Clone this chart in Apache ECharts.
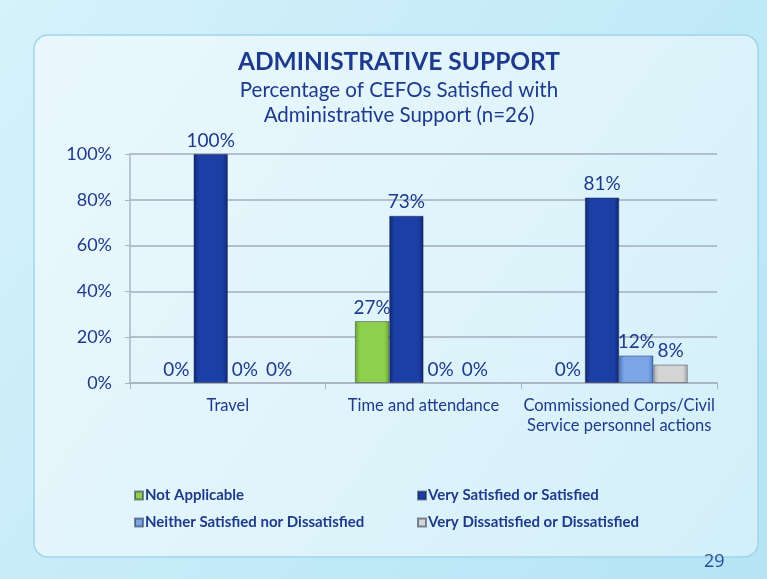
<!DOCTYPE html>
<html><head><meta charset="utf-8">
<script src="https://cdn.jsdelivr.net/npm/echarts@6/dist/echarts.min.js"></script>
<style>html,body{margin:0;padding:0;background:#c6ecf9;}#c{width:767px;height:579px;}</style>
</head><body><div id="c"></div>
<script>
const categories = ['Travel', 'Time and attendance', 'Commissioned Corps/Civil\nService personnel actions'];
const seriesNames = ['Not Applicable', 'Very Satisfied or Satisfied', 'Neither Satisfied nor Dissatisfied', 'Very Dissatisfied or Dissatisfied'];
const notApplicable = [0, 27, 0];
const verySatisfied = [100, 73, 81];
const neither = [0, 0, 12];
const veryDissatisfied = [0, 0, 8];
const yTicks = [0, 20, 40, 60, 80, 100];

const FONT = 'Lato';
const TXT = '#1e3a8c';
const chart = echarts.init(document.getElementById('c'));
function grad(top, bot) {
  return new echarts.graphic.LinearGradient(0, 0, 1, 0, [
    {offset: 0, color: bot}, {offset: 0.15, color: top}, {offset: 0.85, color: top}, {offset: 1, color: bot}
  ]);
}
const colors = [grad('#8fd14f', '#6aa52f'), grad('#1c3fa6', '#0f2872'), grad('#7aa6e8', '#4f7cc4'), grad('#d4d4d4', '#a8a8a8')];
const legendColors = ['#7cc242', '#1a3a9c', '#6d9be0', '#c4c4c4'];
const data = [notApplicable, verySatisfied, neither, veryDissatisfied];

chart.setOption({
  backgroundColor: 'transparent',
  graphic: [
    {type: 'rect', shape: {x: 0, y: 0, width: 767, height: 579}, style: {fill: new echarts.graphic.LinearGradient(0, 0, 1, 1, [{offset: 0, color: '#d6f2fb'}, {offset: 0.5, color: '#c4ebf8'}, {offset: 1, color: '#b5e4f5'}])}, z: -10},
    {type: 'rect', shape: {x: 34, y: 35, width: 724, height: 522, r: 14}, style: {fill: new echarts.graphic.LinearGradient(0, 0, 1, 1, [{offset: 0, color: '#eaf8fd'}, {offset: 0.5, color: '#e0f4fb'}, {offset: 1, color: '#d2eff9'}]), stroke: '#9fd6ea', lineWidth: 1.5}, z: -9},
    {type: 'text', left: 704, top: 553, style: {text: '29', font: '18px "Open Sans"', fill: '#2a4f9a'}}
  ],
  title: {
    text: 'ADMINISTRATIVE SUPPORT',
    subtext: 'Percentage of CEFOs Satisfied with\nAdministrative Support (n=26)',
    left: 394, textAlign: 'center', top: 45, itemGap: 3,
    textStyle: {fontFamily: FONT, fontSize: 24.5, fontWeight: 'bold', color: TXT},
    subtextStyle: {fontFamily: FONT, fontSize: 20.5, color: TXT, lineHeight: 25, align: 'center'}
  },
  legend: [
    {data: [seriesNames[0], seriesNames[2]], orient: 'vertical', left: 129, top: 483, itemWidth: 8, itemHeight: 8, itemGap: 12, icon: 'rect',
     textStyle: {fontFamily: FONT, fontSize: 15, fontWeight: 'bold', color: TXT, padding: [0, 0, 0, -3]}},
    {data: [seriesNames[1], seriesNames[3]], orient: 'vertical', left: 412, top: 483, itemWidth: 8, itemHeight: 8, itemGap: 12, icon: 'rect',
     textStyle: {fontFamily: FONT, fontSize: 15, fontWeight: 'bold', color: TXT, padding: [0, 0, 0, -3]}}
  ],
  grid: {left: 130, right: 50, top: 154, bottom: 196, containLabel: false},
  xAxis: {
    type: 'category', data: categories,
    axisLine: {lineStyle: {color: '#a9b4c4', width: 1.5}},
    axisTick: {show: true, length: 6, lineStyle: {color: '#a9b4c4'}},
    axisLabel: {interval: 0, fontFamily: FONT, fontSize: 16.5, color: TXT, margin: 13, lineHeight: 20}
  },
  yAxis: {
    type: 'value', min: 0, max: 100, interval: 20,
    axisLine: {show: true, lineStyle: {color: '#a9b4c4', width: 1.5}},
    axisTick: {show: true, length: 5, lineStyle: {color: '#a9b4c4'}},
    axisLabel: {fontFamily: FONT, fontSize: 18, color: TXT, margin: 18, formatter: v => yTicks.includes(v) ? v + '%' : ''},
    splitLine: {lineStyle: {color: '#a3adbb', width: 1.5}}
  },
  series: seriesNames.map((n, i) => ({
    name: n, type: 'bar', barGap: '0%', barCategoryGap: '30%',
    data: data[i].map(v => v === 0 ? {value: v, itemStyle: {borderWidth: 0}} : v),
    color: legendColors[i],
    itemStyle: {color: colors[i], borderColor: 'rgba(20,30,60,0.5)', borderWidth: 0.8},
    label: {show: true, position: 'top', distance: 4, fontFamily: FONT, fontSize: 19, color: TXT, formatter: '{c}%'}
  }))
});
</script></body></html>
